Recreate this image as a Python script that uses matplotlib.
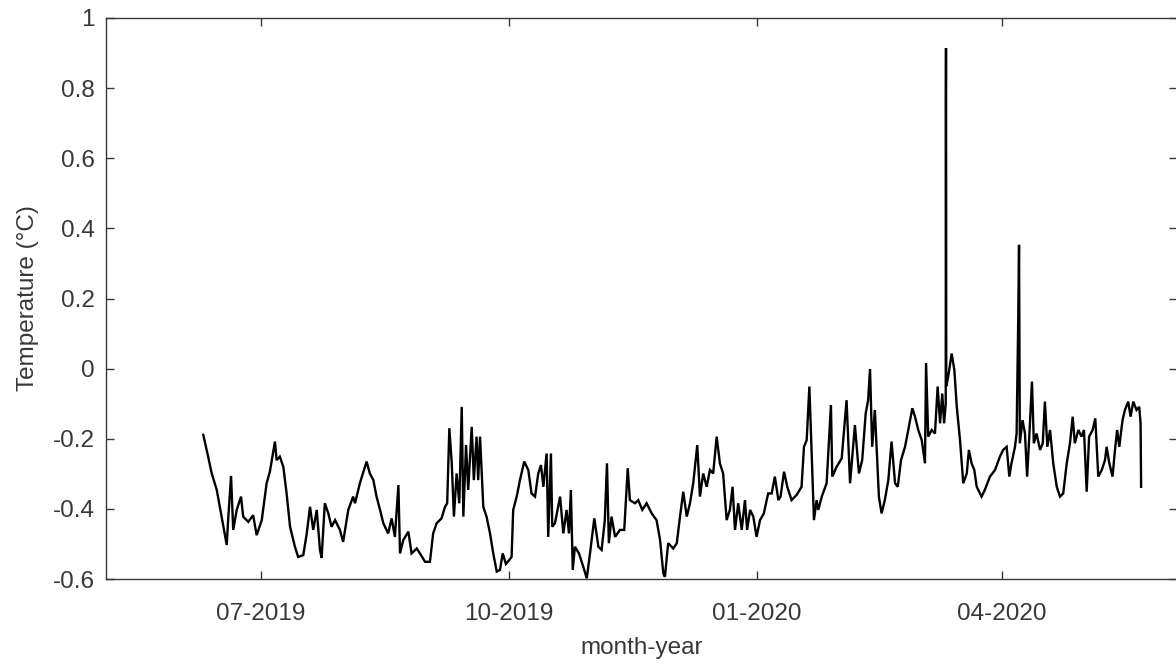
import numpy as np
import matplotlib
matplotlib.use("Agg")
import matplotlib.pyplot as plt
import matplotlib.dates as mdates

# Sensor record: days since 2019-06-01 and temperature in degC
days = [
    8.6, 10.4, 11.7, 13.6, 15.4, 17.3, 17.9, 18.9, 19.7, 21.0, 22.6, 23.4, 25.3, 27.1, 28.4,
    30.3, 32.1, 33.3, 35.2, 35.8, 37.0, 38.3, 39.5, 40.8, 42.6, 43.8, 45.7, 47.0, 48.2, 49.4,
    50.7, 51.9, 52.5, 53.7, 55.0, 56.2, 57.5, 59.3, 60.5, 62.4, 64.2, 64.9, 66.7, 69.2, 70.4,
    71.7, 72.9, 74.2, 75.4, 77.2, 78.5, 79.7, 81.0, 81.6, 82.8, 84.7, 85.9, 87.8, 89.0, 90.9,
    92.7, 93.9, 95.2, 97.0, 98.3, 99.1, 99.9, 100.8, 101.6, 102.6, 103.6, 104.5, 105.1, 106.1,
    106.9, 108.2, 109.0, 110.0, 110.6, 111.3, 112.5, 113.7, 115.0, 116.2, 117.5, 118.7, 119.7,
    120.9, 122.1, 123.0, 123.6, 124.9, 126.1, 127.7, 129.2, 130.4, 131.7, 132.9, 133.9, 134.8,
    136.0, 136.6, 137.6, 138.1, 139.1, 141.0, 142.2, 143.4, 144.3, 145.0, 145.7, 146.5, 148.0,
    149.6, 150.9, 152.1, 153.7, 155.2, 156.4, 157.6, 158.4, 159.1, 160.1, 161.4, 163.2, 164.8,
    166.1, 166.9, 168.8, 170.0, 171.5, 173.1, 175.0, 176.8, 178.1, 179.3, 179.9, 181.1, 183.0,
    184.3, 185.5, 186.7, 188.0, 189.2, 190.4, 191.9, 192.9, 194.1, 195.4, 196.6, 197.8, 199.1,
    200.3, 201.5, 202.8, 204.0, 205.0, 205.9, 207.1, 208.4, 209.6, 210.4, 211.5, 212.7, 213.9,
    215.2, 216.6, 218.2, 219.5, 220.7, 222.0, 222.8, 224.1, 225.3, 226.9, 228.8, 230.6, 231.5,
    232.5, 233.5, 234.3, 235.2, 236.2, 236.8, 238.1, 239.9, 241.5, 242.0, 243.6, 245.5, 247.3,
    248.6, 250.4, 251.9, 253.1, 254.4, 255.3, 256.0, 256.8, 257.8, 259.3, 260.3, 261.5, 262.8,
    264.0, 265.3, 266.3, 267.5, 269.0, 270.2, 271.7, 272.7, 273.9, 275.2, 276.4, 276.8, 277.6,
    278.9, 280.1, 281.1, 282.0, 282.8, 283.5, 284.1, 284.15, 284.2, 284.3, 285.0, 286.3, 287.3,
    288.2, 289.4, 290.6, 291.9, 292.7, 293.7, 294.7, 295.6, 297.4, 298.6, 300.5, 302.4, 304.2,
    305.4, 306.7, 307.7, 308.5, 309.8, 310.4, 311.0, 311.3, 311.6, 312.6, 313.5, 314.3, 315.1,
    316.1, 316.8, 317.8, 319.1, 320.1, 320.9, 321.8, 322.8, 324.0, 325.3, 326.5, 327.7, 329.0,
    330.2, 331.2, 332.0, 333.3, 334.5, 335.4, 336.4, 337.3, 338.6, 339.6, 340.7, 342.0, 343.2,
    343.8, 344.8, 346.0, 346.9, 347.7, 348.5, 349.7, 350.6, 351.8, 352.7, 353.7, 354.9, 355.9,
    356.4, 356.6,
]
temps = [
    -0.189, -0.251, -0.298, -0.346, -0.422, -0.503, -0.422, -0.306, -0.460, -0.403, -0.365, -0.422, -0.437, -0.418, -0.475,
    -0.432, -0.327, -0.294, -0.208, -0.261, -0.251, -0.280, -0.355, -0.451, -0.508, -0.537, -0.532, -0.470, -0.394, -0.460,
    -0.403, -0.517, -0.540, -0.384, -0.413, -0.451, -0.432, -0.460, -0.494, -0.403, -0.365, -0.384, -0.327, -0.265, -0.299,
    -0.318, -0.365, -0.403, -0.441, -0.470, -0.427, -0.480, -0.332, -0.527, -0.489, -0.465, -0.527, -0.513, -0.527, -0.551,
    -0.551, -0.470, -0.441, -0.427, -0.394, -0.384, -0.170, -0.270, -0.422, -0.299, -0.384, -0.109, -0.422, -0.218,
    -0.346, -0.166, -0.318, -0.194, -0.318, -0.194, -0.394, -0.422, -0.470, -0.527, -0.579, -0.574, -0.527,
    -0.557, -0.546, -0.537, -0.403, -0.365, -0.318, -0.265, -0.289, -0.356, -0.365, -0.299, -0.275, -0.337,
    -0.242, -0.480, -0.242, -0.451, -0.441, -0.365, -0.470, -0.403, -0.470, -0.346, -0.574, -0.508, -0.527,
    -0.565, -0.598, -0.527, -0.427, -0.508, -0.517, -0.432, -0.270, -0.498, -0.422, -0.480, -0.460, -0.460,
    -0.284, -0.375, -0.384, -0.375, -0.403, -0.384, -0.413, -0.432, -0.489, -0.584, -0.594, -0.498, -0.513,
    -0.498, -0.422, -0.351, -0.422, -0.384, -0.327, -0.218, -0.365, -0.299, -0.337, -0.289, -0.299, -0.194,
    -0.270, -0.299, -0.432, -0.403, -0.337, -0.460, -0.384, -0.460, -0.375, -0.460, -0.403, -0.422, -0.480,
    -0.432, -0.413, -0.356, -0.356, -0.308, -0.375, -0.365, -0.294, -0.337, -0.375, -0.360, -0.337, -0.223,
    -0.204, -0.051, -0.232, -0.432, -0.375, -0.403, -0.365, -0.327, -0.104, -0.308, -0.280, -0.256, -0.090,
    -0.327, -0.161, -0.299, -0.261, -0.128, -0.090, -0.001, -0.223, -0.118, -0.365, -0.413, -0.375, -0.318,
    -0.208, -0.327, -0.337, -0.261, -0.223, -0.175, -0.113, -0.137, -0.175, -0.204, -0.270, 0.016, -0.194,
    -0.175, -0.185, -0.051, -0.156, -0.071, -0.156, -0.100, 0.770, 0.914, -0.050, -0.024, 0.043, -0.004,
    -0.109, -0.204, -0.327, -0.299, -0.232, -0.270, -0.289, -0.337, -0.365, -0.346, -0.308, -0.289, -0.251,
    -0.232, -0.223, -0.308, -0.270, -0.223, -0.185, 0.139, 0.353, -0.213, -0.147, -0.185, -0.308, -0.194,
    -0.037, -0.213, -0.185, -0.232, -0.213, -0.094, -0.223, -0.175, -0.270, -0.337, -0.365, -0.356, -0.270,
    -0.213, -0.137, -0.213, -0.175, -0.194, -0.175, -0.351, -0.194, -0.175, -0.142, -0.308, -0.289, -0.261,
    -0.223, -0.270, -0.308, -0.232, -0.175, -0.223, -0.147, -0.118, -0.094, -0.137, -0.094, -0.118, -0.109,
    -0.156, -0.337,
]

start = np.datetime64("2019-06-01T00:00")
x_limits = (np.datetime64("2019-05-04T12:00"), np.datetime64("2020-06-04T22:00"))
y_limits = (-0.6, 1.0)
y_ticks = [-0.6, -0.4, -0.2, 0, 0.2, 0.4, 0.6, 0.8, 1]
y_tick_labels = ["-0.6", "-0.4", "-0.2", "0", "0.2", "0.4", "0.6", "0.8", "1"]

times = start + (np.array(days) * 24 * 60).round().astype("timedelta64[m]")

plt.rcParams["font.family"] = ["Liberation Sans", "DejaVu Sans"]
ink = "#383838"

fig = plt.figure(figsize=(11.76, 6.66), dpi=100)
ax = fig.add_axes([106 / 1176, 1 - 579 / 666, 1071 / 1176, 561 / 666])

ax.plot(times, temps, color="black", linewidth=1.7, solid_joinstyle="miter")

ax.set_xlim(*x_limits)
ax.set_ylim(*y_limits)
ax.set_yticks(y_ticks)
ax.set_yticklabels(y_tick_labels)
ax.xaxis.set_major_locator(mdates.MonthLocator(bymonth=[1, 4, 7, 10]))
ax.xaxis.set_major_formatter(mdates.DateFormatter("%m-%Y"))

ax.tick_params(direction="in", length=6, width=1, colors=ink, labelsize=17.5,
               top=True, right=True)
ax.tick_params(axis="y", pad=8)
ax.tick_params(axis="x", pad=17)
for s in ax.spines.values():
    s.set_color(ink)
    s.set_linewidth(1)

ax.set_xlabel("month-year", fontsize=17.5, color=ink, labelpad=9)
ax.set_ylabel("Temperature (°C)", fontsize=17.5, color=ink, labelpad=10)

fig.savefig("out.png", dpi=100)
